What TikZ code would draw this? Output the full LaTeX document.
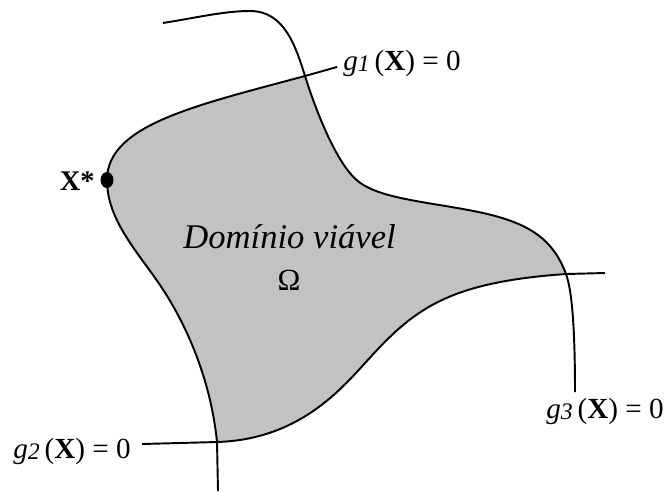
\documentclass[tikz,border=0pt]{standalone}
\usepackage{fontspec}
\setmainfont{Liberation Serif}
\tikzset{
  curva/.style={line width=1.1pt, line join=round},
  regiao/.style={fill=black!24},
  rotulo/.style={font=\fontsize{16.6}{19}\selectfont, inner sep=0pt, anchor=base west},
}
\newcommand{\grest}[1]{\textit{g}\raisebox{-1pt}{\textit{\fontsize{13.5}{14}\selectfont #1}}\,(\textbf{X}) = 0}

\begin{document}
\begin{tikzpicture}[x=0.02cm, y=-0.02cm]
  \useasboundingbox (0,0) rectangle (666,491);
  % cruzamentos e pontos de passagem
  \coordinate (A) at (305,76);
  \coordinate (B) at (217,442);
  \coordinate (C) at (566,274);
  \coordinate (xs) at (107,180);
  \coordinate (M) at (160,285);
  \coordinate (N) at (366,362);
  \coordinate (E) at (359,182);
  \coordinate (F) at (483,213);
  \coordinate (T) at (250,11);
  \coordinate (g1a) at (337,67);
  \coordinate (g1b) at (218,491);
  \coordinate (g2a) at (142,444);
  \coordinate (g2b) at (605,273);
  \coordinate (g3a) at (163,23);
  \coordinate (g3b) at (575,392);
  % dominio viavel
  \fill[regiao] (A) .. controls (195,105.6) and (107,125) .. (xs)
    .. controls (107,220) and (137.6,251.8) .. (M)
    .. controls (188,326.5) and (211,382) .. (B)
    .. controls (297,439.6) and (339.2,391.6) .. (N)
    .. controls (413,310) and (446,282.4) .. (C)
    .. controls (553.75,241.1) and (531.8,223.75) .. (F)
    .. controls (434.2,202.25) and (383,200) .. (E)
    .. controls (339,167) and (318.5,118.75) .. (A) -- cycle;
  % g1
  \draw[curva] (g1a) -- (A) .. controls (195,105.6) and (107,125) .. (xs)
    .. controls (107,220) and (137.6,251.8) .. (M)
    .. controls (188,326.5) and (211,382) .. (B) -- (g1b);
  % g2
  \draw[curva] (g2a) -- (B) .. controls (297,439.6) and (339.2,391.6) .. (N)
    .. controls (413,310) and (446,282.4) .. (C) -- (g2b);
  % g3
  \draw[curva] (g3a) .. controls (200,17) and (225,11) .. (T)
    .. controls (285,11) and (296,47.5) .. (A)
    .. controls (318.5,118.75) and (339,167) .. (E)
    .. controls (383,200) and (434.2,202.25) .. (F)
    .. controls (531.8,223.75) and (553.75,241.1) .. (C)
    .. controls (573,292.8) and (575,340) .. (g3b);
  % rotulos
  \node[rotulo] (l1) at (343,70) {\grest{1}};
  \node[rotulo] (l2) at (13,458) {\grest{2}};
  \node[rotulo, anchor=base east] (l3) at (664,418) {\grest{3}};
  \node[font=\fontsize{19.7}{22}\selectfont\itshape, anchor=base west, inner sep=0pt] (dom) at (183,248) {Domínio viável};
  \node[font=\fontsize{17.5}{19}\selectfont, inner sep=0pt] (omega) at (289,280) {Ω};
  \fill (xs) ellipse [x radius=0.13cm, y radius=0.16cm];
  \node[font=\fontsize{16.2}{18}\selectfont\bfseries, anchor=east, inner sep=0pt] (xlab) at (95,181) {X*};
\end{tikzpicture}
\end{document}
